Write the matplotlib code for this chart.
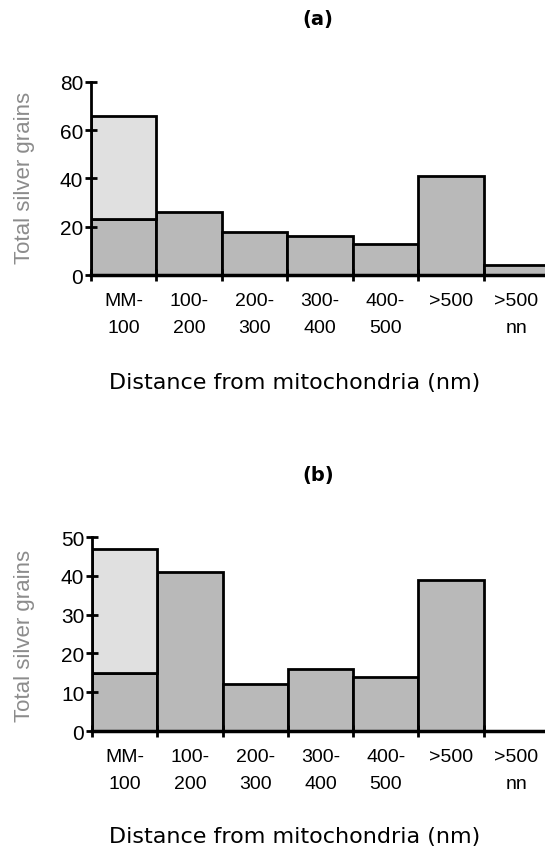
import matplotlib.pyplot as plt
import numpy as np

# Data
categories = ['MM-\n100', '100-\n200', '200-\n300', '300-\n400', '400-\n500', '>500', '>500\nnn']
a_lower = [23, 26, 18, 16, 13, 41, 4]
a_total = [66, 26, 18, 16, 13, 41, 4]
b_lower = [15, 41, 12, 16, 14, 39, 0]
b_total = [47, 41, 12, 16, 14, 39, 0]

W, H = 545, 853
fig = plt.figure(figsize=(W / 100, H / 100), dpi=100)
fig.patch.set_facecolor('white')

dark = '#b9b9b9'
light = '#e0e0e0'
arial = 'Liberation Sans'


def panel(rect, lower, total, ymax, ystep, title, title_y, xlabel_y, ylab_y):
    ax = fig.add_axes(rect)
    x = np.arange(len(categories))
    lower = np.array(lower)
    total = np.array(total)
    upper = total - lower
    ax.bar(x, lower, width=1, align='edge', color=dark, edgecolor='black', linewidth=2)
    m = upper > 0
    ax.bar(x[m], upper[m], bottom=lower[m], width=1, align='edge', color=light,
           edgecolor='black', linewidth=2)
    ax.set_xlim(0, 6.94)
    ax.set_ylim(0, ymax)
    ax.spines['top'].set_visible(False)
    ax.spines['right'].set_visible(False)
    ax.spines['left'].set_linewidth(2)
    ax.spines['bottom'].set_linewidth(2.5)
    ax.set_yticks(np.arange(0, ymax + 1, ystep))
    ax.set_yticklabels([str(v) for v in np.arange(0, ymax + 1, ystep)],
                       fontsize=15, family=arial)
    ax.tick_params(axis='y', direction='inout', length=9, width=2, pad=1)
    ax.set_xticks(np.arange(0, 7))
    ax.set_xticklabels([])
    ax.tick_params(axis='x', which='major', direction='inout', length=8, width=2)
    ax.set_xticks(x + 0.5, minor=True)
    ax.set_xticklabels(categories, minor=True, fontsize=14, family=arial,
                       va='top', linespacing=1.8)
    ax.tick_params(axis='x', which='minor', length=0, pad=12)
    fig.text(25 / W, 1 - ylab_y / H, 'Total silver grains', rotation=90,
             ha='center', va='center', fontsize=16, family=arial, color='#8c8c8c')
    fig.text(318 / W, 1 - title_y / H, '(' + title + ')', ha='center', va='center',
             fontsize=14, fontweight='bold')
    fig.text(295 / W, 1 - xlabel_y / H, 'Distance from mitochondria (nm)',
             ha='center', va='center', fontsize=16)
    return ax


panel([91 / W, 1 - 276 / H, 1 - 91 / W, 193.3 / H], a_lower, a_total, 80, 20,
      'a', 20, 383, 178)
panel([92 / W, 1 - 732 / H, 1 - 92 / W, 194 / H], b_lower, b_total, 50, 10,
      'b', 475, 837, 636)

fig.savefig('out.png', dpi=100)
